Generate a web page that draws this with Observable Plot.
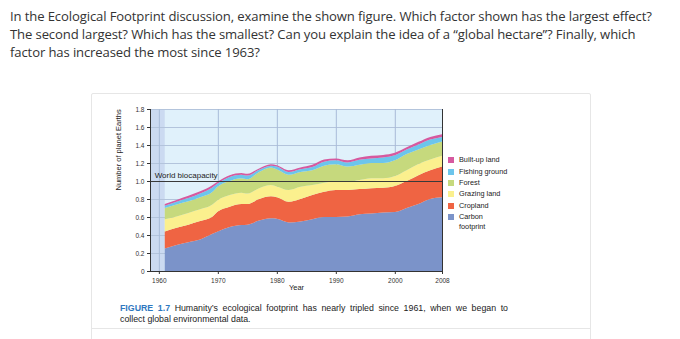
<!DOCTYPE html>
<html>
<head>
<meta charset="utf-8">
<script src="https://cdn.jsdelivr.net/npm/d3@7"></script>
<script src="https://cdn.jsdelivr.net/npm/@observablehq/plot@0.6"></script>
<style>
  html, body { margin: 0; padding: 0; background: #fff; }
  body { width: 680px; height: 339px; position: relative; overflow: hidden; }
  #q { position: absolute; left: 10px; top: 7px; width: 670px; font-family: "Open Sans", sans-serif; font-size: 13.1px; line-height: 18px; color: #333; letter-spacing: -0.12px; white-space: nowrap; }
  #box { position: absolute; left: 91px; top: 93px; width: 498px; height: 250px; border: 1px solid #e6e6e6; border-radius: 2px; }
  #boxline { position: absolute; left: 91px; top: 328px; width: 500px; height: 0; border-top: 1px solid #e6e6e6; }
  #chart { position: absolute; left: 0; top: 0; }
  #legend { position: absolute; left: 448px; top: 155px; font-family: "Liberation Sans", Arial, sans-serif; font-size: 7.3px; color: #222; }
  .row { position: absolute; left: 0; white-space: nowrap; line-height: 10px; }
  .sw { position: absolute; left: 0; width: 6px; height: 6px; }
  .lab { position: absolute; left: 11px; top: -2px; }
  #cap { position: absolute; left: 120px; top: 303px; width: 388px; font-family: "Liberation Sans", Arial, sans-serif; font-size: 8.8px; line-height: 10.5px; color: #222; }
  #cap .l1 { text-align: justify; text-align-last: justify; white-space: nowrap; }
  #cap .fig { color: #2f78c0; font-weight: bold; }
</style>
</head>
<body>
<div id="box"></div>
<div id="boxline"></div>
<div id="q">In the Ecological Footprint discussion, examine the shown figure. Which factor shown has the largest effect?<br>The second largest? Which has the smallest? Can you explain the idea of a “global hectare”? Finally, which<br>factor has increased the most since 1963?</div>
<div id="chart"></div>
<div id="legend"></div>
<div id="cap"><div class="l1"><span class="fig">FIGURE&nbsp;1.7</span> Humanity’s ecological footprint has nearly tripled since 1961, when we began to</div><div>collect global environmental data.</div></div>
<script>
// Data (number of planet Earths, per component)
const years     = [1961, 1963, 1965, 1967, 1969, 1970, 1972, 1974, 1975, 1977, 1979, 1980, 1982, 1984, 1986, 1988, 1990, 1992, 1994, 1996, 1998, 2000, 2002, 2004, 2006, 2008];
const carbon    = [0.25, 0.29, 0.32, 0.35, 0.41, 0.44, 0.49, 0.51, 0.515, 0.56, 0.585, 0.58, 0.54, 0.55, 0.575, 0.60, 0.60, 0.605, 0.63, 0.64, 0.65, 0.655, 0.70, 0.745, 0.80, 0.82];
const cropland  = [0.19, 0.19, 0.195, 0.205, 0.19, 0.22, 0.225, 0.235, 0.23, 0.24, 0.245, 0.24, 0.23, 0.25, 0.27, 0.28, 0.30, 0.295, 0.28, 0.28, 0.275, 0.29, 0.30, 0.32, 0.32, 0.34];
const grazing   = [0.135, 0.125, 0.13, 0.13, 0.135, 0.13, 0.13, 0.125, 0.115, 0.12, 0.125, 0.12, 0.13, 0.135, 0.11, 0.10, 0.10, 0.09, 0.10, 0.11, 0.105, 0.11, 0.12, 0.125, 0.12, 0.12];
const forest    = [0.125, 0.135, 0.13, 0.135, 0.14, 0.15, 0.155, 0.16, 0.16, 0.18, 0.195, 0.19, 0.17, 0.165, 0.165, 0.19, 0.185, 0.17, 0.17, 0.17, 0.17, 0.175, 0.18, 0.16, 0.16, 0.16];
const fishing   = [0.025, 0.03, 0.035, 0.04, 0.05, 0.035, 0.045, 0.04, 0.04, 0.025, 0.02, 0.03, 0.03, 0.03, 0.035, 0.045, 0.045, 0.045, 0.055, 0.05, 0.06, 0.055, 0.05, 0.055, 0.06, 0.05];
const builtup   = [0.02, 0.02, 0.025, 0.025, 0.025, 0.02, 0.02, 0.02, 0.02, 0.015, 0.015, 0.015, 0.02, 0.02, 0.025, 0.025, 0.02, 0.025, 0.025, 0.03, 0.03, 0.03, 0.025, 0.03, 0.03, 0.03];

const seriesNames = ["Carbon footprint", "Cropland", "Grazing land", "Forest", "Fishing ground", "Built-up land"];
const seriesColors = ["#7b93c9", "#ef6443", "#fbf08e", "#c6d97d", "#6cc5ec", "#d6599f"];
const seriesValues = [carbon, cropland, grazing, forest, fishing, builtup];
const legendOrder = ["Built-up land", "Fishing ground", "Forest", "Grazing land", "Cropland", "Carbon footprint"];
const legendLabels = ["Built-up land", "Fishing ground", "Forest", "Grazing land", "Cropland", "Carbon<br>footprint"];

const yTicks = [0, 0.2, 0.4, 0.6, 0.8, 1.0, 1.2, 1.4, 1.6, 1.8];
const xTicks = [1960, 1970, 1980, 1990, 2000, 2008];
const xGrid = [1960, 1970, 1980, 1990, 2000];
const biocapacity = 1.0;
const xStart = 1958.5, xEnd = 2008, dataStart = 1961;

const rows = [];
seriesNames.forEach((name, i) => {
  years.forEach((yr, j) => rows.push({year: yr, series: name, value: seriesValues[i][j]}));
});

const font = "'Liberation Sans', Arial, sans-serif";
const plot = Plot.plot({
  width: 680, height: 339,
  marginLeft: 150, marginRight: 238, marginTop: 109, marginBottom: 68,
  style: {fontFamily: font, fontSize: "6.5px", color: "#333", background: "transparent", overflow: "visible"},
  x: {domain: [xStart, xEnd], axis: null},
  y: {domain: [0, 1.8], axis: null},
  color: {domain: seriesNames, range: seriesColors},
  marks: [
    Plot.rectY([{x1: xStart, x2: xEnd}], {x1: "x1", x2: "x2", y1: 0, y2: 1.8, fill: "#e0f1fb"}),
    Plot.rectY([{x1: xStart, x2: dataStart}], {x1: "x1", x2: "x2", y1: 0, y2: 1.8, fill: "#cbdaf1"}),
    Plot.ruleY(yTicks.filter(d => d > 0), {stroke: "#b3c4dc", strokeWidth: 1}),
    Plot.ruleX(xGrid, {stroke: "#a8bbd8", strokeWidth: 1}),
    Plot.areaY(rows, Plot.stackY({order: seriesNames}, {x: "year", y: "value", z: "series", fill: "series", curve: "monotone-x"})),
    Plot.ruleY([biocapacity], {stroke: "#3a3a3a", strokeWidth: 1.2}),
    Plot.text(["World biocapacity"], {x: xStart + 0.7, y: biocapacity, text: d => d, textAnchor: "start", dy: -6, fontSize: 8, fill: "#222"}),
    Plot.ruleX([xEnd], {stroke: "#333", strokeWidth: 1}),
    Plot.ruleX([xStart], {stroke: "#333", strokeWidth: 1}),
    Plot.ruleY([0], {stroke: "#333", strokeWidth: 1}),
    Plot.axisY(yTicks, {tickSize: 3, tickPadding: 3, tickFormat: d => d === 0 ? "0" : d.toFixed(1), label: null, fontSize: 6.5, fill: "#333"}),
    Plot.axisX(xTicks, {tickSize: 3, tickPadding: 4, tickFormat: d => String(d), label: null, fontSize: 6.5, fill: "#333"}),
    Plot.text(["Year"], {frameAnchor: "bottom", dy: 18, text: d => d, fontSize: 7.5, fill: "#222"}),
    Plot.text(["Number of planet Earths"], {frameAnchor: "left", dx: -32, rotate: -90, text: d => d, fontSize: 7.5, fill: "#222"})
  ]
});
document.getElementById("chart").appendChild(plot);

const leg = document.getElementById("legend");
const rowTops = [2, 14, 25, 36, 48, 59];
legendOrder.forEach((name, i) => {
  const idx = seriesNames.indexOf(name);
  const r = document.createElement("div");
  r.className = "row";
  r.style.top = rowTops[i] + "px";
  r.innerHTML = `<div class="sw" style="background:${seriesColors[idx]}"></div><div class="lab">${legendLabels[i]}</div>`;
  leg.appendChild(r);
});
</script>
</body>
</html>
